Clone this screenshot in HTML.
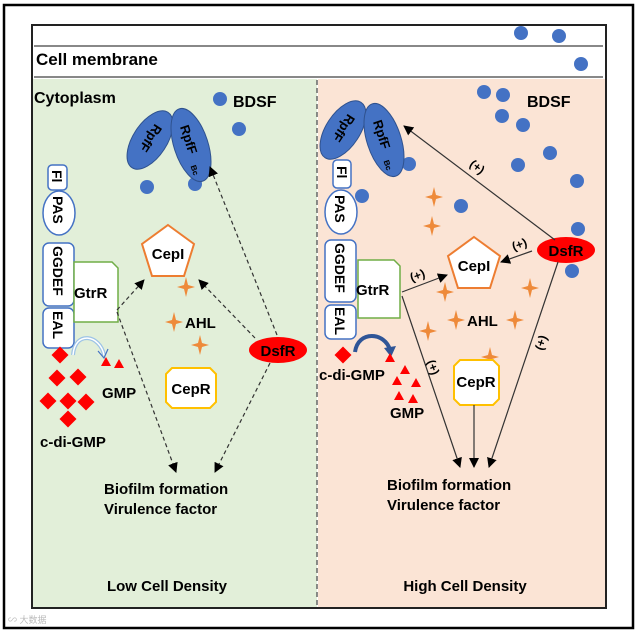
<!DOCTYPE html>
<html><head><meta charset="utf-8"><style>
html,body{margin:0;padding:0;background:#fff;}
svg{display:block;font-family:"Liberation Sans",Arial,sans-serif;font-weight:bold;}
</style></head><body>
<svg width="639" height="633" viewBox="0 0 639 633" xmlns="http://www.w3.org/2000/svg">
<defs>
<marker id="ah" markerWidth="10" markerHeight="10" refX="9" refY="5" orient="auto" markerUnits="userSpaceOnUse">
<path d="M0,0 L10,5 L0,10 z" fill="#000"/></marker>
<g id="star"><path d="M0,-10 L2,-2 L9,0 L2,2 L0,10 L-2,2 L-9,0 L-2,-2 z" fill="#ee8a3a"/></g>
<g id="dia"><rect x="-6" y="-6" width="12" height="12" fill="#f00" transform="rotate(45)"/></g>
<g id="tri"><path d="M0,-5 L5,4 L-5,4 z" fill="#f00"/></g>
</defs>
<rect x="4" y="5" width="629" height="623" fill="#fff" stroke="#000" stroke-width="2.5"/>
<rect x="32" y="25" width="574" height="583" fill="#fff" stroke="#222" stroke-width="2"/>
<rect x="33" y="79" width="284" height="528" fill="#e2efd9"/>
<rect x="318" y="79" width="287" height="528" fill="#fbe4d5"/>
<line x1="317" y1="80" x2="317" y2="607" stroke="#666" stroke-width="1.5" stroke-dasharray="5,3"/>
<line x1="34" y1="46" x2="603" y2="46" stroke="#888" stroke-width="2"/>
<line x1="34" y1="77" x2="603" y2="77" stroke="#888" stroke-width="2"/>
<text x="36" y="65" font-size="17">Cell membrane</text>
<circle cx="521" cy="33" r="7" fill="#4472c4"/><circle cx="559" cy="36" r="7" fill="#4472c4"/><circle cx="581" cy="64" r="7" fill="#4472c4"/>
<text x="34" y="103" font-size="16">Cytoplasm</text>

<!-- LEFT -->
<circle cx="220" cy="99" r="7" fill="#4472c4"/><text x="233" y="107" font-size="16">BDSF</text>
<circle cx="239" cy="129" r="7" fill="#4472c4"/>
<circle cx="147" cy="187" r="7" fill="#4472c4"/><circle cx="195" cy="184" r="7" fill="#4472c4"/>
<g transform="translate(150,140) rotate(-57)"><ellipse rx="33" ry="17" fill="#4472c4" stroke="#2f528f"/><text x="-2" y="5" font-size="13" text-anchor="middle" transform="rotate(180)">RpfF</text></g>
<g transform="translate(191,145) rotate(72)"><ellipse rx="38" ry="17" fill="#4472c4" stroke="#2f528f"/><text x="-6" y="5" font-size="13" text-anchor="middle">RpfF</text><text x="20" y="7" font-size="8">Bc</text></g>
<rect x="48" y="165" width="19" height="25" rx="4" fill="#fff" stroke="#4472c4" stroke-width="1.5"/>
<text font-size="14" transform="translate(52,170) rotate(90)">Fl</text>
<ellipse cx="59" cy="213" rx="16" ry="22" fill="#fff" stroke="#4472c4" stroke-width="1.5"/>
<text font-size="14" transform="translate(53,196) rotate(90)">PAS</text>
<rect x="43" y="243" width="31" height="63" rx="6" fill="#fff" stroke="#4472c4" stroke-width="1.5"/>
<text font-size="14" transform="translate(53,246) rotate(90)">GGDEF</text>
<rect x="43" y="308" width="31" height="40" rx="6" fill="#fff" stroke="#4472c4" stroke-width="1.5"/>
<text font-size="14" transform="translate(53,311) rotate(90)">EAL</text>
<path d="M74,262 H112 L118,268 V322 H74 z" fill="#fff" stroke="#70ad47" stroke-width="1.5"/>
<text x="74" y="298" font-size="15">GtrR</text>
<path d="M168,225 L194,244 L184,276 L152,276 L142,244 z" fill="#fff" stroke="#ed7d31" stroke-width="2"/>
<text x="168" y="259" font-size="15" text-anchor="middle">CepI</text>
<use href="#star" x="186" y="287"/><use href="#star" x="174" y="322"/><use href="#star" x="200" y="345"/>
<text x="185" y="328" font-size="15">AHL</text>
<ellipse cx="278" cy="350" rx="29" ry="13" fill="#f00"/><text x="278" y="356" font-size="15" text-anchor="middle">DsfR</text>
<path d="M172,368 H210 L216,374 V402 L210,408 H172 L166,402 V374 z" fill="#fff" stroke="#ffc000" stroke-width="2"/>
<text x="191" y="394" font-size="15" text-anchor="middle">CepR</text>
<use href="#dia" x="60" y="355"/><use href="#dia" x="57" y="378"/><use href="#dia" x="78" y="377"/><use href="#dia" x="48" y="401"/><use href="#dia" x="68" y="401"/><use href="#dia" x="86" y="402"/><use href="#dia" x="68" y="419"/>
<use href="#tri" x="106" y="362"/><use href="#tri" x="119" y="364"/>
<text x="102" y="398" font-size="15">GMP</text>
<text x="40" y="447" font-size="15">c-di-GMP</text>
<path d="M73,355 C75,330 100,335 104,355" fill="none" stroke="#9dc3e6" stroke-width="4"/>
<path d="M73,355 C75,330 100,335 104,355" fill="none" stroke="#fff" stroke-width="1.5"/>
<path d="M98,351 L104,358 L108,349" fill="none" stroke="#4472c4" stroke-width="1.2"/>
<g stroke="#333" stroke-width="1.2" stroke-dasharray="4,3" fill="none" marker-end="url(#ah)">
<line x1="117" y1="310" x2="144" y2="280"/>
<line x1="117" y1="312" x2="176" y2="472"/>
<line x1="255" y1="338" x2="199" y2="280"/>
<line x1="277" y1="335" x2="210" y2="167"/>
<line x1="270" y1="363" x2="215" y2="472"/>
</g>
<text x="104" y="494" font-size="15">Biofilm formation</text>
<text x="104" y="514" font-size="15">Virulence factor</text>
<text x="167" y="591" font-size="15" text-anchor="middle">Low Cell Density</text>

<!-- RIGHT -->
<text x="527" y="107" font-size="16">BDSF</text>
<g fill="#4472c4">
<circle cx="484" cy="92" r="7"/><circle cx="503" cy="95" r="7"/><circle cx="502" cy="116" r="7"/><circle cx="523" cy="125" r="7"/><circle cx="550" cy="153" r="7"/><circle cx="518" cy="165" r="7"/><circle cx="577" cy="181" r="7"/><circle cx="578" cy="229" r="7"/><circle cx="572" cy="271" r="7"/><circle cx="362" cy="196" r="7"/><circle cx="461" cy="206" r="7"/><circle cx="409" cy="164" r="7"/>
</g>
<g transform="translate(343,130) rotate(-57)"><ellipse rx="33" ry="17" fill="#4472c4" stroke="#2f528f"/><text x="-2" y="5" font-size="13" text-anchor="middle" transform="rotate(180)">RpfF</text></g>
<g transform="translate(384,140) rotate(72)"><ellipse rx="38" ry="17" fill="#4472c4" stroke="#2f528f"/><text x="-6" y="5" font-size="13" text-anchor="middle">RpfF</text><text x="20" y="7" font-size="8">Bc</text></g>
<rect x="333" y="160" width="18" height="28" rx="4" fill="#fff" stroke="#4472c4" stroke-width="1.5"/>
<text font-size="14" transform="translate(337,166) rotate(90)">Fl</text>
<ellipse cx="341" cy="212" rx="16" ry="22" fill="#fff" stroke="#4472c4" stroke-width="1.5"/>
<text font-size="14" transform="translate(335,195) rotate(90)">PAS</text>
<rect x="325" y="240" width="31" height="62" rx="6" fill="#fff" stroke="#4472c4" stroke-width="1.5"/>
<text font-size="14" transform="translate(335,243) rotate(90)">GGDEF</text>
<rect x="325" y="305" width="31" height="34" rx="6" fill="#fff" stroke="#4472c4" stroke-width="1.5"/>
<text font-size="14" transform="translate(335,307) rotate(90)">EAL</text>
<path d="M358,260 H394 L400,266 V318 H358 z" fill="#fff" stroke="#70ad47" stroke-width="1.5"/>
<text x="356" y="295" font-size="15">GtrR</text>
<path d="M474,237 L500,256 L490,288 L458,288 L448,256 z" fill="#fff" stroke="#ed7d31" stroke-width="2"/>
<text x="474" y="271" font-size="15" text-anchor="middle">CepI</text>
<use href="#star" x="434" y="197"/><use href="#star" x="432" y="226"/><use href="#star" x="445" y="292"/><use href="#star" x="530" y="288"/><use href="#star" x="456" y="320"/><use href="#star" x="515" y="320"/><use href="#star" x="428" y="331"/><use href="#star" x="490" y="357"/>
<text x="467" y="326" font-size="15">AHL</text>
<ellipse cx="566" cy="250" rx="29" ry="13" fill="#f00"/><text x="566" y="256" font-size="15" text-anchor="middle">DsfR</text>
<path d="M460,360 H493 L499,366 V399 L493,405 H460 L454,399 V366 z" fill="#fff" stroke="#ffc000" stroke-width="2"/>
<text x="476" y="387" font-size="15" text-anchor="middle">CepR</text>
<use href="#dia" x="343" y="355"/>
<text x="319" y="380" font-size="15">c-di-GMP</text>
<path d="M355,352 C358,330 385,332 390,350" fill="none" stroke="#2f5597" stroke-width="4"/>
<path d="M384,348 L391,357 L396,346" fill="#2f5597"/>
<use href="#tri" x="390" y="358"/><use href="#tri" x="405" y="370"/><use href="#tri" x="397" y="381"/><use href="#tri" x="416" y="383"/><use href="#tri" x="399" y="396"/><use href="#tri" x="413" y="399"/>
<text x="390" y="418" font-size="15">GMP</text>
<g stroke="#333" stroke-width="1.2" fill="none" marker-end="url(#ah)">
<line x1="555" y1="240" x2="404" y2="126"/>
<line x1="532" y1="251" x2="501" y2="262"/>
<line x1="402" y1="292" x2="447" y2="275"/>
<line x1="402" y1="296" x2="460" y2="467"/>
<line x1="474" y1="405" x2="474" y2="467"/>
<line x1="558" y1="262" x2="489" y2="467"/>
</g>
<g font-size="12" font-weight="bold">
<text x="470" y="170" transform="rotate(37 476 166)">(+)</text>
<text x="512" y="249" transform="rotate(-20 518 245)">(+)</text>
<text x="410" y="280" transform="rotate(-20 416 276)">(+)</text>
<text x="428" y="368" transform="rotate(70 432 364)">(+)</text>
<text x="536" y="350" transform="rotate(-72 540 346)">(+)</text>
</g>
<text x="387" y="490" font-size="15">Biofilm formation</text>
<text x="387" y="510" font-size="15">Virulence factor</text>
<text x="465" y="591" font-size="15" text-anchor="middle">High Cell Density</text>
<text x="8" y="623" font-size="9" fill="#bbb" font-weight="normal" font-family="'Liberation Sans','Noto Sans CJK SC',sans-serif">∽ 大数据</text>
</svg>
</body></html>
